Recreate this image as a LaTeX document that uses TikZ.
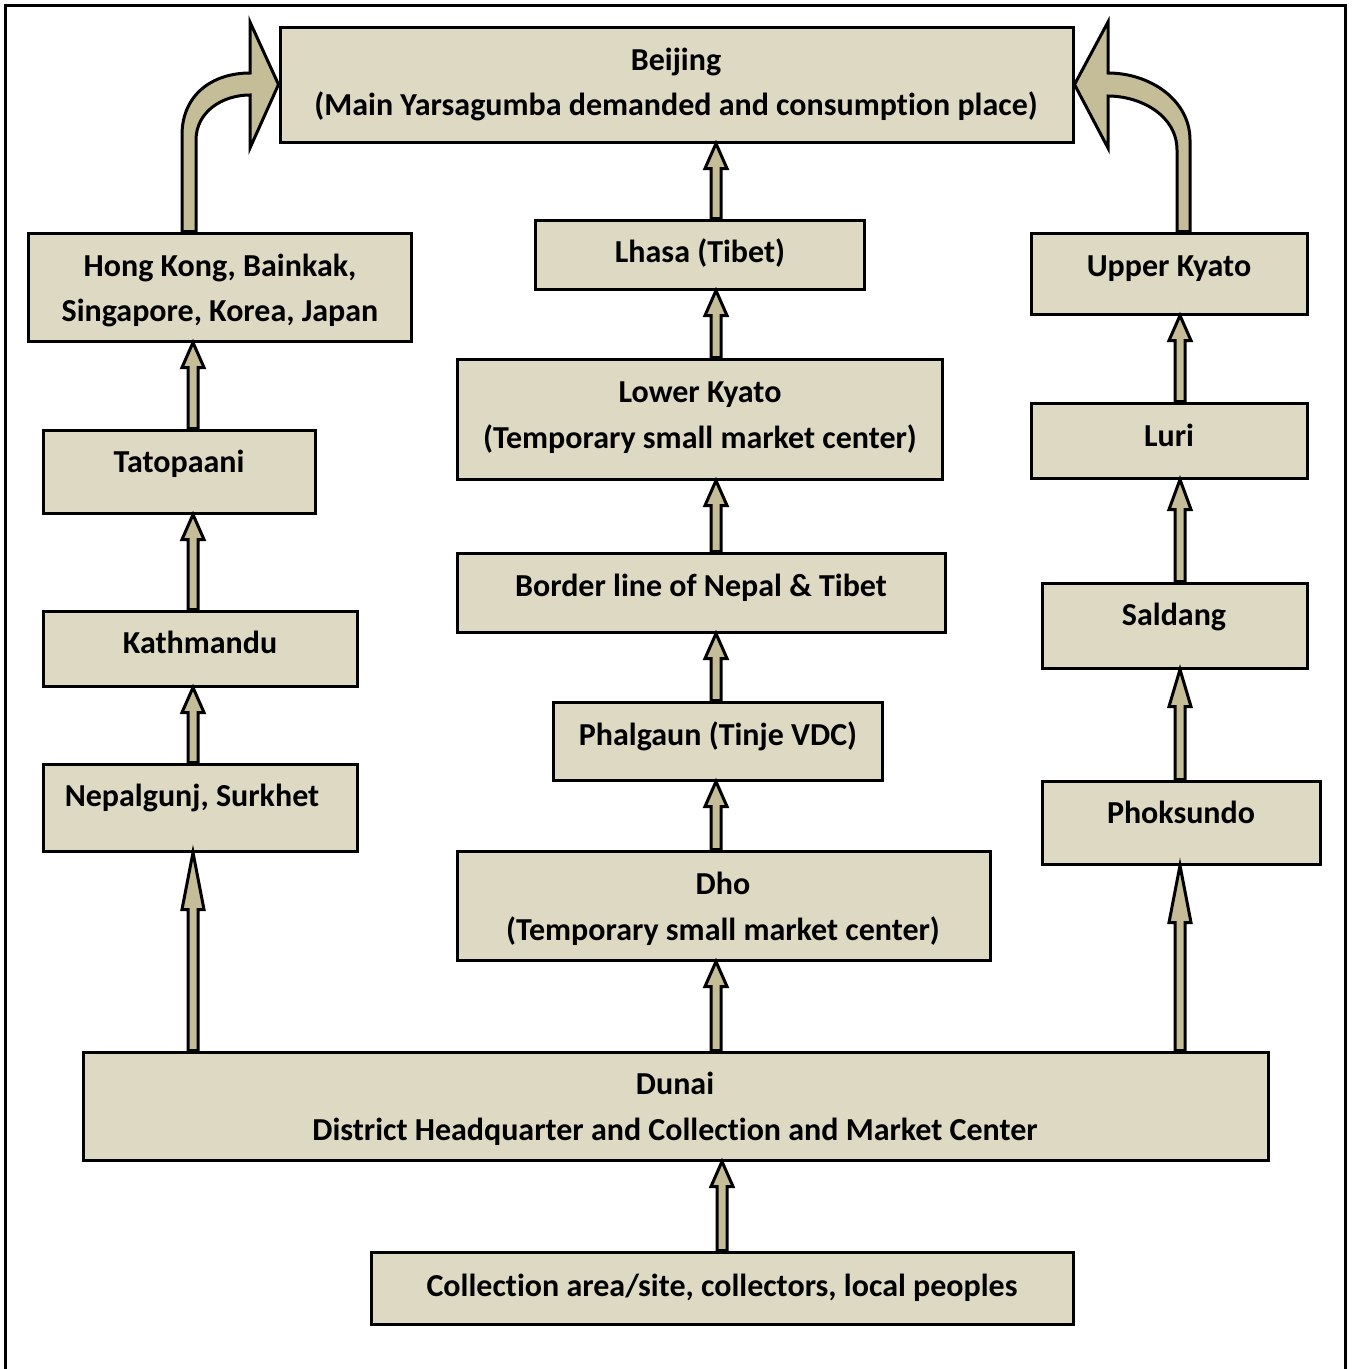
\documentclass[tikz,border=0pt]{standalone}
\usepackage{fontspec}
\setmainfont{Carlito}[Ligatures={NoCommon}]
\usetikzlibrary{calc}
\definecolor{boxfill}{HTML}{DDD9C3}
\definecolor{arrfill}{HTML}{C4BD97}
\tikzset{
  box/.style={draw=black, line width=3pt, fill=boxfill, rectangle, inner sep=0pt},
  txt/.style={inner sep=0pt, anchor=base, font=\fontsize{32}{38}\selectfont\bfseries},
  arrsty/.style={draw=black, line width=3pt, fill=arrfill, line join=miter, miter limit=20},
}
\newcommand\bx[5]{\node[box, minimum width={#4pt-#2pt}, minimum height={#5pt-#3pt}] (#1) at ({(#2+#4)/2},{(#3+#5)/2}) {};}
\newcommand\tx[3]{\node[txt] at (#1,#2+10) {#3};}
% \upar{from}{to}{x}{headlen}
\newcommand\upar[4]{\draw[arrsty] let \p1=(#1.north), \p2=(#2.south) in
  (#3pt-5pt,\y1) -- (#3pt-5pt,\y2-#4pt) -- (#3pt-11pt,\y2-#4pt) -- (#3pt,\y2) --
  (#3pt+11pt,\y2-#4pt) -- (#3pt+5pt,\y2-#4pt) -- (#3pt+5pt,\y1) -- cycle;}
\begin{document}
\begin{tikzpicture}[x=1pt,y=-1pt]
\useasboundingbox (0,0) rectangle (1352,1369);
\draw[line width=3pt] (5,1380) -- (5,5) -- (1345,5) -- (1345,1380);
% boxes
\bx{beijing}{280}{27}{1073}{142}
\bx{hk}{28}{233}{411}{341}
\bx{tato}{43}{430}{315}{513}
\bx{kath}{43}{611}{357}{686}
\bx{nepal}{43}{764}{357}{851}
\bx{lhasa}{535}{220}{864}{289}
\bx{lower}{457}{359}{942}{479}
\bx{border}{457}{553}{945}{632}
\bx{phal}{553}{702}{882}{780}
\bx{dho}{457}{851}{990}{960}
\bx{upper}{1031}{233}{1307}{314}
\bx{luri}{1031}{403}{1307}{478}
\bx{saldang}{1042}{583}{1307}{668}
\bx{phok}{1042}{781}{1320}{864}
\bx{dunai}{83}{1052}{1268}{1160}
\bx{coll}{371}{1252}{1073}{1324}
% texts
\tx{676}{60}{Beijing}
\tx{676}{105}{(Main Yarsagumba demanded and consumption place)}
\tx{220}{266}{Hong Kong, Bainkak,}
\tx{220}{311}{Singapore, Korea, Japan}
\tx{179}{462}{Tatopaani}
\tx{200}{643}{Kathmandu}
\tx{192}{796}{Nepalgunj, Surkhet}
\tx{700}{252}{Lhasa (Tibet)}
\tx{700}{392}{Lower Kyato}
\tx{700}{438}{(Temporary small market center)}
\tx{701}{586}{Border line of Nepal \& Tibet}
\tx{718}{735}{Phalgaun (Tinje VDC)}
\tx{723}{884}{Dho}
\tx{723}{930}{(Temporary small market center)}
\tx{1169}{266}{Upper Kyato}
\tx{1169}{436}{Luri}
\tx{1174}{615}{Saldang}
\tx{1181}{813}{Phoksundo}
\tx{675}{1084}{Dunai}
\tx{675}{1130}{District Headquarter and Collection and Market Center}
\tx{722}{1286}{Collection area/site, collectors, local peoples}
% straight arrows
\upar{dunai}{nepal}{193}{57}
\upar{nepal}{kath}{193}{25}
\upar{kath}{tato}{193}{25}
\upar{tato}{hk}{193}{25}
\upar{dunai}{dho}{716}{25}
\upar{dho}{phal}{716}{25}
\upar{phal}{border}{716}{25}
\upar{border}{lower}{716}{25}
\upar{lower}{lhasa}{716}{25}
\upar{lhasa}{beijing}{716}{25}
\upar{coll}{dunai}{722}{25}
\upar{dunai}{phok}{1180}{57}
\upar{phok}{saldang}{1180}{37}
\upar{saldang}{luri}{1180}{30}
\upar{luri}{upper}{1180}{25}
% curved arrows
\draw[arrsty] let \p1=(hk.north), \p2=(beijing.west) in
  (182pt,\y1) -- (182,135) .. controls (182,95) and (212,73) .. (250,73) -- (250,22) --
  (\x2,\y2) -- (250,148) -- (250,95) .. controls (222,95) and (196,112) .. (196,140) --
  (196pt,\y1) -- cycle;
\draw[arrsty] let \p1=(upper.north), \p2=(beijing.east) in
  (1190pt,\y1) -- (1190,140) .. controls (1190,100) and (1150,73) .. (1108,73) -- (1108,22) --
  (\x2,\y2) -- (1108,148) -- (1108,96) .. controls (1140,96) and (1177,115) .. (1177,150) --
  (1177pt,\y1) -- cycle;
\end{tikzpicture}
\end{document}
